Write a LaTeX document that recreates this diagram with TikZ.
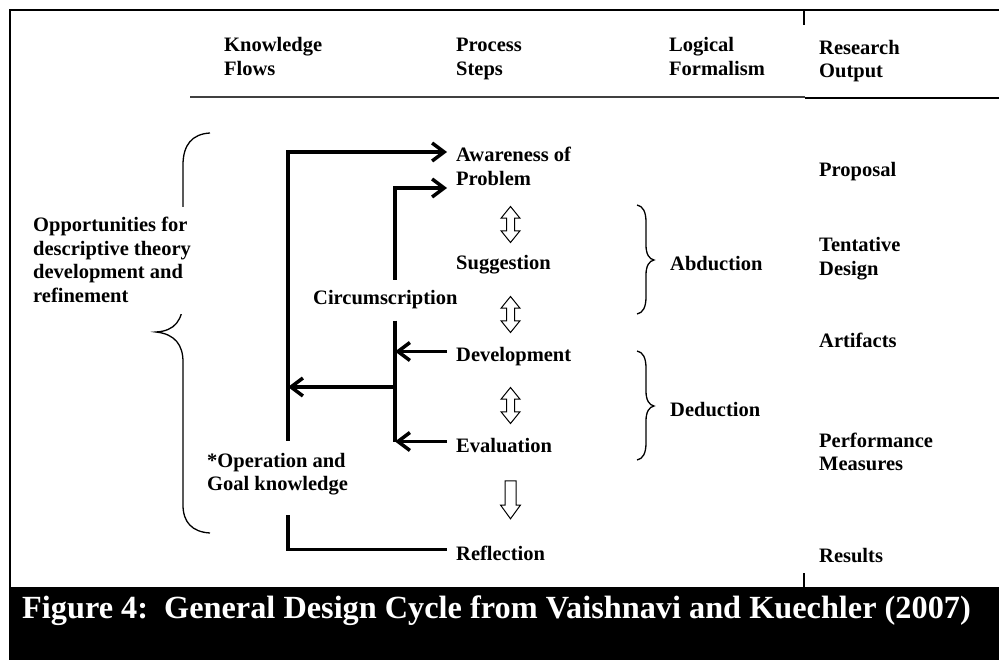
\documentclass[tikz,border=0pt]{standalone}
\usepackage{fontspec}
\setmainfont{Liberation Serif}
\usepackage{tikz}
\usetikzlibrary{arrows.meta,shapes.arrows}

\tikzset{
  txt/.style={anchor=base west,inner sep=0pt,align=left,font=\bfseries\fontsize{20.5}{23.5}\selectfont},
  stepnode/.style={txt,inner xsep=9pt,text height=25pt,text depth=4pt},
  flow/.style={line width=3.5pt,-{Straight Barb[length=12pt,width=18pt]}},
  bar/.style={line width=3.5pt},
  brace/.style={line width=1.3pt},
  frame/.style={line width=2pt},
  updown/.style={draw,double arrow,rotate=90,line width=1pt,minimum height=36pt,minimum width=18pt,inner sep=3.5pt,double arrow head extend=5.5pt,double arrow tip angle=78},
  downarrow/.style={draw,single arrow,rotate=-90,line width=1pt,minimum height=38pt,minimum width=19pt,inner sep=5pt,single arrow head extend=4.5pt,single arrow tip angle=72}
}

\begin{document}
\begin{tikzpicture}[x=1pt,y=-1pt]
%\draw [help lines] (0,0) grid (999,660);
\useasboundingbox (0,0) rectangle (999,660);
\fill (9,587) rectangle (999,660);
\draw [frame] (999,10) -- (10,10) -- (10,587); \draw [frame] (804,10) -- (804,25); \draw [frame] (804,573) -- (804,587);
\draw [frame,black!75] (190,97) -- (805,97); \draw [frame] (805,98) -- (999,98);
\node [txt] (kf) at (224,75.5) {Knowledge\\Flows}; \node [txt] (ps) at (456,75.5) {Process\\Steps}; \node [txt] (lf) at (669,75.5) {Logical\\Formalism}; \node [txt] (ro) at (819,78) {Research\\Output};

% left brace, text on top of it
\draw [brace] (210,133) .. controls (192,134) and (183,145) .. (183,165) -- (183,300) .. controls (183,320) and (175,331) .. (156,332) .. controls (175,334) and (183,345) .. (183,362) -- (183,505) .. controls (183,522) and (192,532) .. (210,533);
\node [txt,fill=white,inner xsep=2pt,inner ysep=11pt] (opp) at (31,302.5) {Opportunities for\\descriptive theory\\development and\\refinement};

% process steps
\node [txt,inner xsep=9pt] (aw) at (447,185.5) {Awareness of\\Problem};
\node [stepnode] (sug) at (447,270) {Suggestion};
\node [stepnode] (dev) at (447,362) {Development};
\node [stepnode] (eva) at (447,452) {Evaluation};
\node [stepnode] (refl) at (447,560) {Reflection};
\node [updown] (ud1) at (510.5,224.5) {}; \node [updown] (ud2) at (510.5,314.5) {}; \node [updown] (ud3) at (510.5,405.5) {}; \node [downarrow] (dn) at (510.5,496) {};

% knowledge flows
\node [txt,inner ysep=11pt] (circ) at (313,305) {Circumscription};
\node [txt,inner ysep=12pt] (op) at (207,490.5) {*Operation and\\Goal knowledge};
\coordinate (k1) at (288,152); \coordinate (k2) at (288,387); \coordinate (k3) at (288,515); \coordinate (c1) at (395,188);
\draw [flow] (k1 |- op.north) -- (k1) -- (k1 -| aw.west);
\draw [flow] (c1 |- circ.north) -- (c1) -- (c1 -| aw.west);
\draw [bar] (c1 |- circ.south) -- (c1 |- eva.west);
\draw [flow] (dev.west) -- (dev.west -| c1); \draw [flow] (eva.west) -- (eva.west -| c1);
\draw [flow] (k2 -| c1) -- (k2);
\draw [bar] (k3) |- (refl.west);

% logical formalism
\foreach \y in {205,351} \draw [brace] (637,\y) .. controls (643,\y+1) and (646,\y+7) .. (646,\y+17) -- (646,\y+40) .. controls (646,\y+49) and (649,\y+54) .. (654,\y+55) .. controls (649,\y+56) and (646,\y+61) .. (646,\y+70) -- (646,\y+92) .. controls (646,\y+102) and (643,\y+108) .. (637,\y+109);
\node [txt] (abd) at (670,271) {Abduction}; \node [txt] (ded) at (670,416) {Deduction};

% research output
\node [txt] (prop) at (819,177) {Proposal}; \node [txt] (tent) at (819,275.5) {Tentative\\Design}; \node [txt] (art) at (819,348) {Artifacts};
\node [txt] (pm) at (819,470.5) {Performance\\Measures}; \node [txt] (res) at (819,562) {Results};

\node [txt,text=white,font=\bfseries\fontsize{32.3}{38}\selectfont] (cap) at (22,618) {Figure 4:\ \ General Design Cycle from Vaishnavi and Kuechler (2007)};
\end{tikzpicture}
\end{document}
